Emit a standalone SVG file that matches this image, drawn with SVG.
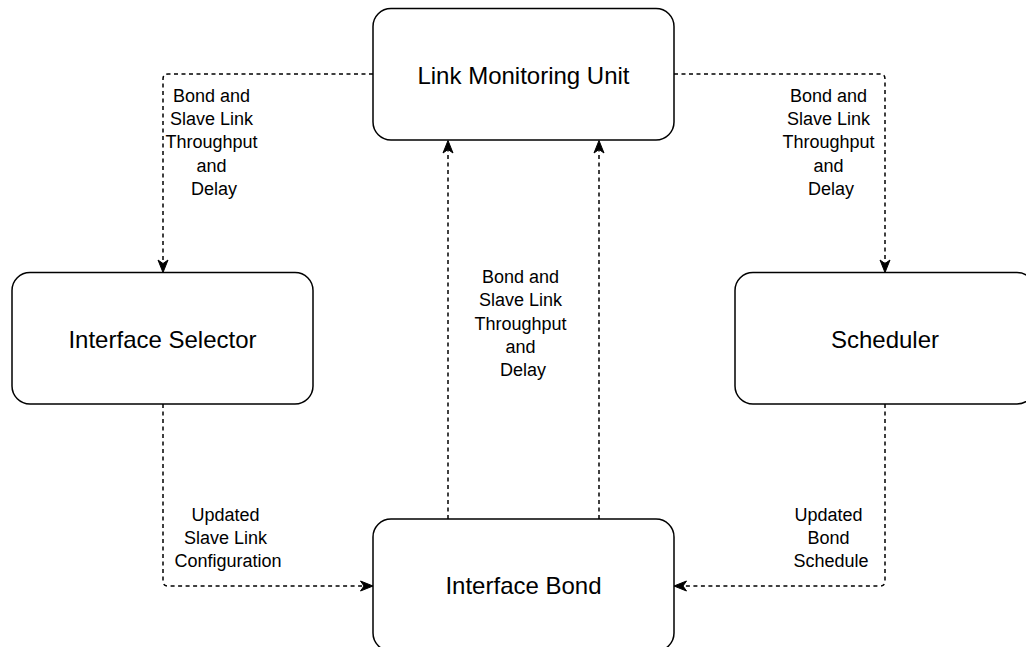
<svg xmlns="http://www.w3.org/2000/svg" width="1026" height="647" viewBox="0 0 1026 647">
  <style>
    .node rect { fill: #ffffff; stroke: #000000; stroke-width: 1.5; }
    .node text { font-family: "Liberation Sans", Arial, Helvetica, sans-serif; font-size: 24px; fill: #000000; text-anchor: middle; }
    .edge { fill: none; stroke: #000000; stroke-width: 1.5; stroke-dasharray: 4 3.5; }
    .label { font-family: "Liberation Sans", Arial, Helvetica, sans-serif; font-size: 18px; fill: #000000; text-anchor: middle; }
  </style>
  <defs>
    <!-- filled classic arrowhead; refX sits on the notch so the line tucks under it -->
    <marker id="arrow" markerUnits="userSpaceOnUse" markerWidth="14" markerHeight="12" refX="3.5" refY="5" orient="auto" overflow="visible">
      <path d="M0,0 L12.5,5 L0,10 L3.5,5 Z" fill="#000000" stroke="#000000" stroke-width="1" stroke-linejoin="miter"/>
    </marker>
  </defs>

  <rect x="0" y="0" width="1026" height="647" fill="#ffffff"/>

  <!-- connectors -->
  <g id="connectors">
    <path class="edge" d="M373,74 H168 Q163,74 163,79 V263.5" marker-end="url(#arrow)"/>
    <path class="edge" d="M674,74 H880 Q885,74 885,79 V263.5" marker-end="url(#arrow)"/>
    <path class="edge" d="M448,519 V149.5" marker-end="url(#arrow)"/>
    <path class="edge" d="M599,519 V149.5" marker-end="url(#arrow)"/>
    <path class="edge" d="M163,404 V581 Q163,586 168,586 H364" marker-end="url(#arrow)"/>
    <path class="edge" d="M885,404 V581 Q885,586 880,586 H683" marker-end="url(#arrow)"/>

    <text class="label">
      <tspan x="214" y="102">Bond and</tspan>
      <tspan x="214" y="125.2">Slave Link</tspan>
      <tspan x="214" y="148.4">Throughput</tspan>
      <tspan x="214" y="171.6">and</tspan>
      <tspan x="214" y="194.8">Delay</tspan>
    </text>
    <text class="label">
      <tspan x="831" y="102">Bond and</tspan>
      <tspan x="831" y="125.2">Slave Link</tspan>
      <tspan x="831" y="148.4">Throughput</tspan>
      <tspan x="831" y="171.6">and</tspan>
      <tspan x="831" y="194.8">Delay</tspan>
    </text>
    <text class="label">
      <tspan x="523" y="283.2">Bond and</tspan>
      <tspan x="523" y="306.4">Slave Link</tspan>
      <tspan x="523" y="329.6">Throughput</tspan>
      <tspan x="523" y="352.8">and</tspan>
      <tspan x="523" y="376">Delay</tspan>
    </text>
    <text class="label">
      <tspan x="228" y="521">Updated</tspan>
      <tspan x="228" y="544.2">Slave Link</tspan>
      <tspan x="228" y="567.4">Configuration</tspan>
    </text>
    <text class="label">
      <tspan x="831" y="521">Updated</tspan>
      <tspan x="831" y="544.2">Bond</tspan>
      <tspan x="831" y="567.4">Schedule</tspan>
    </text>
  </g>

  <!-- nodes -->
  <g id="link-monitoring-unit" class="node">
    <rect x="373" y="8.5" width="301" height="131.5" rx="18" ry="18"/>
    <text x="523.5" y="83.5">Link Monitoring Unit</text>
  </g>
  <g id="interface-selector" class="node">
    <rect x="12" y="272.5" width="301" height="131.5" rx="18" ry="18"/>
    <text x="162.5" y="347.8">Interface Selector</text>
  </g>
  <g id="scheduler" class="node">
    <rect x="735" y="272.5" width="300" height="131.5" rx="18" ry="18"/>
    <text x="885" y="347.8">Scheduler</text>
  </g>
  <g id="interface-bond" class="node">
    <rect x="373" y="519" width="301" height="132" rx="18" ry="18"/>
    <text x="523.5" y="594">Interface Bond</text>
  </g>
</svg>
